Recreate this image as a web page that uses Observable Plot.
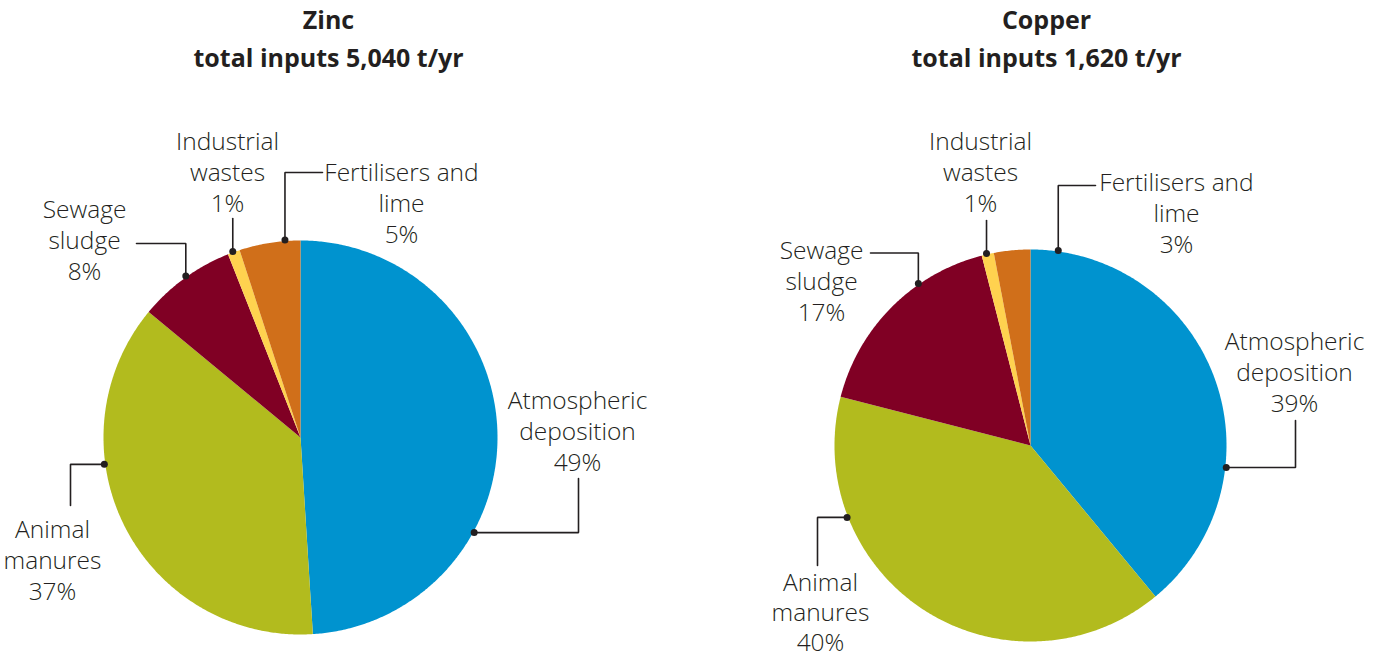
<!DOCTYPE html>
<html><head><meta charset="utf-8">
<script src="https://cdn.jsdelivr.net/npm/d3@7"></script>
<script src="https://cdn.jsdelivr.net/npm/@observablehq/plot@0.6"></script>
<style>body{margin:0;background:#fff;}</style>
</head><body><div id="chart"></div>
<script>
// ---- data ----
const categories = ["Atmospheric deposition","Animal manures","Sewage sludge","Industrial wastes","Fertilisers and lime"];
const labelLines = [["Atmospheric","deposition"],["Animal","manures"],["Sewage","sludge"],["Industrial","wastes"],["Fertilisers and","lime"]];
const colors = ["#0093CF","#B2BB1E","#800024","#FFD24F","#D06F1A"];
const metals = ["Zinc","Copper"];
const totals = ["5,040","1,620"];
const zincShares = [49,37,8,1,5];
const copperShares = [39,40,17,1,3];
const shares = [zincShares, copperShares];

// ---- layout ----
const FS = 24.5, LH = 31, TFS = 25;
const ink = "#231F20";
const pies = [
  {cx:300, cy:437, r:197, titleX:328,
   labels:[
     {a:118.7, legs:[["h",578],["v",478]], tx:577, b0:408, lh:LH},
     {a:262.2, legs:[["h",70],["v",505]],  tx:52,  b0:537, lh:LH},
     {a:324.6, legs:[["v",243],["h",136]], tx:84,  b0:217, lh:LH},
     {a:340.0, legs:[["v",218]],           tx:227, b0:149.5, lh:LH},
     {a:355.5, legs:[["v",172],["h",322]], tx:401, b0:180, lh:LH}
   ]},
  {cx:1030, cy:445, r:196, titleX:1046,
   labels:[
     {a:96.4,  legs:[["h",1295],["v",420]], tx:1294, b0:349, lh:LH},
     {a:248.6, legs:[["h",817],["v",565]],  tx:820,  b0:590, lh:30},
     {a:325.3, legs:[["v",252.5],["h",870]], tx:821, b0:258, lh:LH},
     {a:347.1, legs:[["v",220]],            tx:980,  b0:149, lh:LH},
     {a:8.1,   legs:[["v",185],["h",1095]], tx:1176, b0:190, lh:LH}
   ]}
];

const slicePts = [], leaderPts = [], dots = [], texts = [], titles = [];
pies.forEach((p, pi) => {
  const arcs = d3.pie().sort(null).value(d => d)(shares[pi]);
  arcs.forEach((arc, i) => {
    const key = pi + "-" + i;
    slicePts.push({key, cat:categories[i], x:p.cx, y:p.cy});
    const n = Math.max(2, Math.ceil((arc.endAngle - arc.startAngle) / (Math.PI/360)));
    for (let k = 0; k <= n; k++) {
      const t = arc.startAngle + (arc.endAngle - arc.startAngle) * k / n;
      slicePts.push({key, cat:categories[i], x:p.cx + p.r*Math.sin(t), y:p.cy - p.r*Math.cos(t)});
    }
    const L = p.labels[i];
    const ar = L.a * Math.PI/180, rr = p.r + 1;
    let x = p.cx + rr*Math.sin(ar), y = p.cy - rr*Math.cos(ar);
    dots.push({x, y});
    leaderPts.push({key, x, y});
    L.legs.forEach(([d, v]) => { if (d === "h") x = v; else y = v; leaderPts.push({key, x, y}); });
    const lines = [...labelLines[i], shares[pi][i] + "%"];
    lines.forEach((t, j) => texts.push({x:L.tx, y:L.b0 + j*L.lh - 0.32*FS, t}));
  });
  titles.push({x:p.titleX, y:28.3 - 0.32*TFS, t:metals[pi]});
  titles.push({x:p.titleX, y:66.7 - 0.32*TFS, t:"total inputs " + totals[pi] + " t/yr"});
});

const chart = Plot.plot({
  width:1379, height:658, margin:0,
  x:{type:"identity", axis:null}, y:{type:"identity", axis:null},
  color:{domain:categories, range:colors},
  style:{fontFamily:"'Open Sans', sans-serif", color:ink, background:"#fff"},
  marks:[
    Plot.line(slicePts, {x:"x", y:"y", z:"key", fill:"cat", stroke:"none", curve:"linear-closed"}),
    Plot.line(leaderPts, {x:"x", y:"y", z:"key", stroke:ink, strokeWidth:1.6, strokeLinejoin:"miter"}),
    Plot.dot(dots, {x:"x", y:"y", r:3.5, fill:ink, stroke:"none"}),
    Plot.text(texts, {x:"x", y:"y", text:"t", fontSize:FS, fontWeight:300, fill:ink, textAnchor:"middle"}),
    Plot.text(titles, {x:"x", y:"y", text:"t", fontSize:TFS, fontWeight:700, fill:ink, textAnchor:"middle"})
  ]
});
document.getElementById("chart").appendChild(chart);
</script>
</body></html>
